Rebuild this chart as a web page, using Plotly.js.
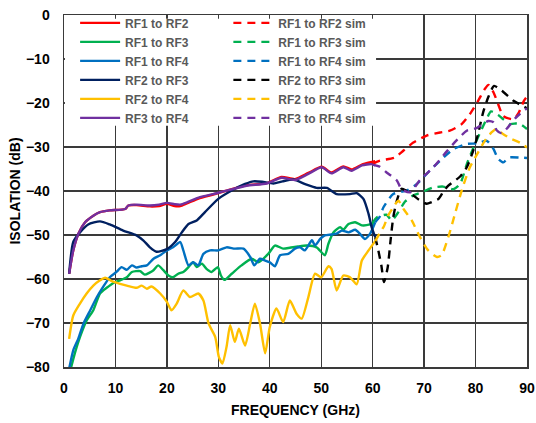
<!DOCTYPE html>
<html>
<head>
<meta charset="utf-8">
<script src="https://cdn.plot.ly/plotly-3.0.1.min.js"></script>
<style>
  html, body { margin: 0; padding: 0; background: #fff; }
  #chart { width: 536px; height: 423px; }
</style>
</head>
<body>
<div id="chart"></div>
<script>
// ---- Measured isolation (dB) vs frequency (GHz) ----
const f_rf12 = [1, 1.8, 2.8, 4.1, 5.7, 7, 8.9, 11.9, 12.5, 14.1, 16.7, 18.5, 20, 21.5, 22.6, 23.9, 26.4, 29, 31.6, 35.5, 39.4, 42.3, 44.9, 47.5, 50.1, 52, 54.3, 55.9, 57.9, 59.8, 60.5];
const rf12   = [-58.8, -53.5, -49.7, -47.1, -45.6, -44.8, -44.4, -44.1, -43.3, -43.2, -43.5, -43.4, -42.9, -43.4, -43.4, -42.8, -41.6, -40.8, -39.9, -38.7, -38.2, -36.8, -37.3, -35.9, -34.5, -35.8, -34.4, -35.1, -34.0, -33.4, -33.2];

const f_rf13 = [1.4, 2.1, 3.1, 4.4, 5.7, 7, 8.3, 9.6, 10.9, 12.2, 13.2, 14.8, 15.7, 17.4, 18.3, 19.3, 20.3, 21.2, 22.2, 23.2, 24.2, 25.1, 25.8, 26.8, 27.7, 28.7, 29.9, 30.5, 31.2, 32.6, 34.5, 36.5, 37.8, 39.7, 41, 42.6, 43.9, 45.5, 47.2, 49.1, 50.7, 51.4, 52.4, 53.7, 54.3, 55.3, 56.6, 57.9, 59.5, 60.3];
const rf13   = [-80, -76.9, -73.2, -69.4, -67.1, -63.3, -62, -60.9, -60.3, -59.6, -58.4, -58.2, -59, -58, -56.9, -58, -59.2, -59.6, -58.8, -58.4, -57.3, -56.2, -57.3, -56.5, -57.7, -58.4, -57.3, -59.2, -60.2, -58.8, -56.9, -55.4, -56.2, -54.3, -52.4, -53.1, -52.9, -52.6, -52.4, -52.8, -54.6, -52, -49.4, -48.2, -48.8, -47.5, -47.1, -47.8, -47.6, -47.2];

const f_rf14 = [1, 1.8, 2.8, 3.8, 5.1, 6.4, 7.6, 8.9, 10.2, 11.2, 12.2, 13.2, 14.1, 15.1, 16.1, 17.4, 18.7, 20, 21.2, 22.6, 23.2, 24.2, 25.1, 26.1, 27.1, 28.4, 30, 31.6, 33.2, 34.9, 36.2, 37, 38.1, 39.1, 40, 41, 42, 43.6, 44.9, 45.9, 46.8, 48.2, 48.8, 49.8, 50.7, 52, 53, 54, 55.3, 56.6, 57.5, 58.5, 59.5, 60.5];
const rf14   = [-80.4, -76.2, -73.5, -70.1, -67.1, -64.1, -61.8, -59.6, -58.4, -57.3, -57.9, -56.9, -57.4, -57.1, -56.9, -55.4, -54.6, -53.5, -52.8, -51.6, -53.5, -56.9, -56.2, -56.9, -54.3, -53.5, -53.5, -52.8, -53.1, -53.1, -55, -56.9, -55.4, -55.8, -56.2, -57.1, -54.6, -54.3, -53.1, -52.8, -53.5, -51.2, -52.4, -50.9, -50.1, -49.9, -49.7, -49, -49.4, -48.8, -49.7, -50.9, -49.7, -47.1];

const f_rf23 = [1, 1.8, 3.1, 4.7, 7, 8.9, 11.5, 14.1, 15.4, 16.7, 18, 20, 21.6, 22.9, 24.2, 25.8, 27.4, 30, 32.6, 35.2, 36.8, 38.5, 40.7, 42.5, 44.6, 47, 49.1, 51.1, 53, 55.6, 56.9, 58.2, 59.2, 59.8, 60.5];
const rf23   = [-58.8, -51.6, -49.4, -47.6, -46.9, -47.6, -49, -50.1, -51.2, -52.8, -53.8, -53.2, -51.6, -49.4, -47.5, -46.7, -44.8, -41.8, -39.9, -38.4, -37.8, -37.9, -38.3, -37.8, -37.4, -38.5, -39.3, -39.3, -40.7, -40.7, -40.5, -41.8, -45.2, -48.2, -50.5];

const f_rf24 = [1, 1.8, 3.1, 4.4, 5.7, 7, 8, 9.3, 10.9, 12.2, 14.1, 15.1, 16.1, 17, 18.7, 20, 20.9, 21.9, 23.2, 24.5, 26.1, 27.1, 28.1, 29.4, 30.1, 30.8, 31.6, 32.3, 33.2, 34, 35.2, 36.2, 37.1, 38.1, 39.1, 40, 41.3, 42.6, 43.9, 45.2, 46.2, 47.5, 48.8, 50, 51.4, 52, 53, 54.3, 55.6, 56.9, 57.9, 59.2, 60.5];
const rf24   = [-73.6, -68.3, -65.6, -63.3, -61.5, -60.3, -59.7, -60.5, -61.1, -61.5, -62, -61.5, -62.2, -61.7, -63.3, -65.2, -67.1, -65.6, -62.6, -64.1, -63.3, -64.9, -70.1, -73.2, -77.7, -79.2, -75.4, -70.5, -74.3, -71.3, -75.1, -70.1, -65.6, -70.1, -76.9, -70.9, -66.7, -69.8, -64.9, -67.9, -69, -64.1, -58.8, -59.6, -57.1, -57.7, -62.6, -59.2, -59.6, -61.2, -55.8, -53.5, -51.4];

const f_rf34 = [1, 1.8, 2.8, 4.1, 5.7, 7, 8.9, 11.9, 12.5, 14.1, 16.7, 18.5, 20, 21.5, 22.6, 23.9, 26.4, 29, 31.6, 35.5, 39.4, 42.3, 44.9, 47.5, 50.1, 52, 54.3, 55.9, 57.9, 59.8, 60.5];
const rf34   = [-58.8, -53.5, -49.7, -47.1, -45.6, -44.8, -44.4, -44.1, -43.3, -43.1, -43.3, -43.1, -42.7, -43, -43.1, -42.6, -41.4, -40.7, -39.9, -38.8, -38.3, -37, -37.5, -36.1, -34.6, -36, -34.6, -35.4, -34.2, -33.9, -34.2];

// ---- Simulated isolation (dB), 60 to 90 GHz ----
const f_rf12_sim = [60, 61.4, 64.3, 66, 67.9, 70.5, 73.1, 75, 77.3, 78.9, 80.5, 81.8, 82.5, 83.5, 84.4, 85.4, 87.4, 88.4, 89.4, 90];
const rf12_sim   = [-33.8, -33.1, -32.4, -30.8, -29, -27.4, -26.7, -26.3, -24.8, -22.5, -19.5, -16.8, -15.9, -17.6, -20.3, -23, -23.7, -22.2, -19.5, -18.5];

const f_rf13_sim = [60, 60.8, 62.7, 63.7, 65, 66.3, 67.9, 69.5, 71.8, 73.7, 75.7, 77, 78.3, 79.6, 80.9, 82.2, 83, 84.4, 85.4, 86.7, 88.4, 90];
const rf13_sim   = [-47.2, -46, -45.4, -46.7, -44.8, -42.4, -41, -40.3, -39.2, -39, -39.6, -38.4, -33.9, -30.1, -26.7, -23.5, -21.9, -22.7, -23.7, -24.8, -24.6, -25.9];

const f_rf14_sim = [60.5, 61.4, 62.1, 64, 66.6, 68.6, 70.5, 73.1, 75.7, 78.3, 80.2, 82.2, 83.5, 84.4, 85.4, 86.4, 88.6, 90];
const rf14_sim   = [-47.1, -45.8, -43.7, -40.7, -39.9, -38.4, -36.1, -33.1, -30.5, -29.3, -29.2, -28.6, -30.5, -32.7, -33.5, -32.4, -32.4, -32.5];

const f_rf23_sim = [60.5, 61.1, 61.7, 62.2, 62.9, 63.5, 64, 64.7, 65.6, 66.6, 67.9, 69, 70.5, 71.5, 72.8, 73.8, 74.7, 77, 78.3, 79.5, 80.5, 81.5, 82.5, 83.6, 85.1, 87.4, 90];
const rf23_sim   = [-50.5, -53.5, -57, -60.7, -57.5, -51, -46, -42.2, -39.5, -40, -41, -42, -42.9, -42.5, -41.8, -40, -38.8, -36.7, -34.6, -31, -27, -22, -18.6, -16.1, -17.2, -19.5, -21.2];

const f_rf24_sim = [60.5, 61.4, 62.2, 63, 64, 65, 66, 67.6, 69.2, 70.8, 72.5, 73.4, 74.7, 76, 77.3, 78.9, 80.5, 81.8, 83.1, 84, 85.4, 87, 88.6, 90];
const rf24_sim   = [-51.4, -49.5, -48, -45.6, -43.7, -42.2, -44.1, -46.7, -50.5, -53.5, -55, -54.6, -50.5, -45.2, -39.9, -34.6, -31.2, -28.6, -26.7, -25.9, -27.1, -28.2, -29, -30.1];

const f_rf34_sim = [60, 61.4, 62.7, 64.7, 65.6, 67.3, 69.2, 71.8, 74.4, 76.3, 78.3, 80.2, 82.5, 83.5, 84.1, 85.1, 86.1, 87.7, 88.6, 90];
const rf34_sim   = [-34, -34.5, -35.8, -37.6, -39.6, -40.3, -37.5, -34.6, -31, -28.5, -26.3, -25.7, -24.1, -24.4, -26.2, -26.9, -25.8, -23.5, -22.5, -21.2];

// ---- Series definitions ----
const names  = ['RF1 to RF2', 'RF1 to RF3', 'RF1 to RF4', 'RF2 to RF3', 'RF2 to RF4', 'RF3 to RF4'];
const colors = ['#FF0000', '#00B050', '#0070C0', '#002060', '#FFC000', '#7030A0'];
const simColors = ['#FF0000', '#00B050', '#0070C0', '#000000', '#FFC000', '#7030A0'];
const measX = [f_rf12, f_rf13, f_rf14, f_rf23, f_rf24, f_rf34];
const measY = [rf12, rf13, rf14, rf23, rf24, rf34];
const simX  = [f_rf12_sim, f_rf13_sim, f_rf14_sim, f_rf23_sim, f_rf24_sim, f_rf34_sim];
const simY  = [rf12_sim, rf13_sim, rf14_sim, rf23_sim, rf24_sim, rf34_sim];

const traces = [];
names.forEach((n, i) => {
  traces.push({
    x: measX[i], y: measY[i], name: n, type: 'scatter', mode: 'lines',
    line: { color: colors[i], width: 2.4, shape: 'spline', smoothing: 0.6 },
    legend: 'legend'
  });
});
names.forEach((n, i) => {
  traces.push({
    x: simX[i], y: simY[i], name: n + ' sim', type: 'scatter', mode: 'lines',
    line: { color: simColors[i], width: 2.4, dash: '8px,6px', shape: 'spline', smoothing: 0.6 },
    legend: 'legend2'
  });
});

const gridCol = '#3a3a3a';
const tickFont = { family: 'Liberation Sans, Arial, sans-serif', size: 14, weight: 'bold', color: '#000' };
const legFont  = { family: 'Liberation Sans, Arial, sans-serif', size: 12, weight: 'bold', color: '#595959' };

const layout = {
  width: 536, height: 423,
  margin: { l: 64, r: 9, t: 14, b: 56 },
  paper_bgcolor: '#fff', plot_bgcolor: '#fff',
  showlegend: true,
  xaxis: {
    range: [0, 90], tick0: 0, dtick: 10,
    showgrid: true, gridcolor: gridCol, gridwidth: 1.3,
    showline: true, linecolor: gridCol, linewidth: 1.5, mirror: true,
    zeroline: false, ticks: '', tickfont: tickFont, ticklabelstandoff: 8,
    title: { text: 'FREQUENCY (GHz)', font: { family: 'Liberation Sans, Arial, sans-serif', size: 14, weight: 'bold', color: '#000' }, standoff: 10 }
  },
  yaxis: {
    range: [-80, 0], tick0: 0, dtick: 10,
    showgrid: true, gridcolor: gridCol, gridwidth: 1.3,
    showline: true, linecolor: gridCol, linewidth: 1.5, mirror: true,
    zeroline: false, ticks: '', tickfont: tickFont, ticklabelstandoff: 10,
    title: { text: 'ISOLATION (dB)', font: { family: 'Liberation Sans, Arial, sans-serif', size: 14, weight: 'bold', color: '#000' }, standoff: 2 }
  },
  legend: {
    x: 0.024, y: 1.016, xanchor: 'left', yanchor: 'top',
    bgcolor: 'rgba(0,0,0,0)', borderwidth: 0, font: legFont,
    itemwidth: 40, tracegroupgap: 0, traceorder: 'normal'
  },
  legend2: {
    x: 0.355, y: 1.016, xanchor: 'left', yanchor: 'top',
    bgcolor: 'rgba(0,0,0,0)', borderwidth: 0, font: legFont,
    itemwidth: 40, tracegroupgap: 0, traceorder: 'normal'
  },
  shapes: [{
    // white panel behind the two legend columns
    type: 'rect', xref: 'paper', yref: 'paper', layer: 'above',
    x0: 0.002, x1: 0.674, y0: 0.6856, y1: 0.989,
    fillcolor: '#fff', line: { width: 0 }
  }]
};

Plotly.newPlot('chart', traces, layout, { displayModeBar: false, staticPlot: true });
</script>
</body>
</html>
